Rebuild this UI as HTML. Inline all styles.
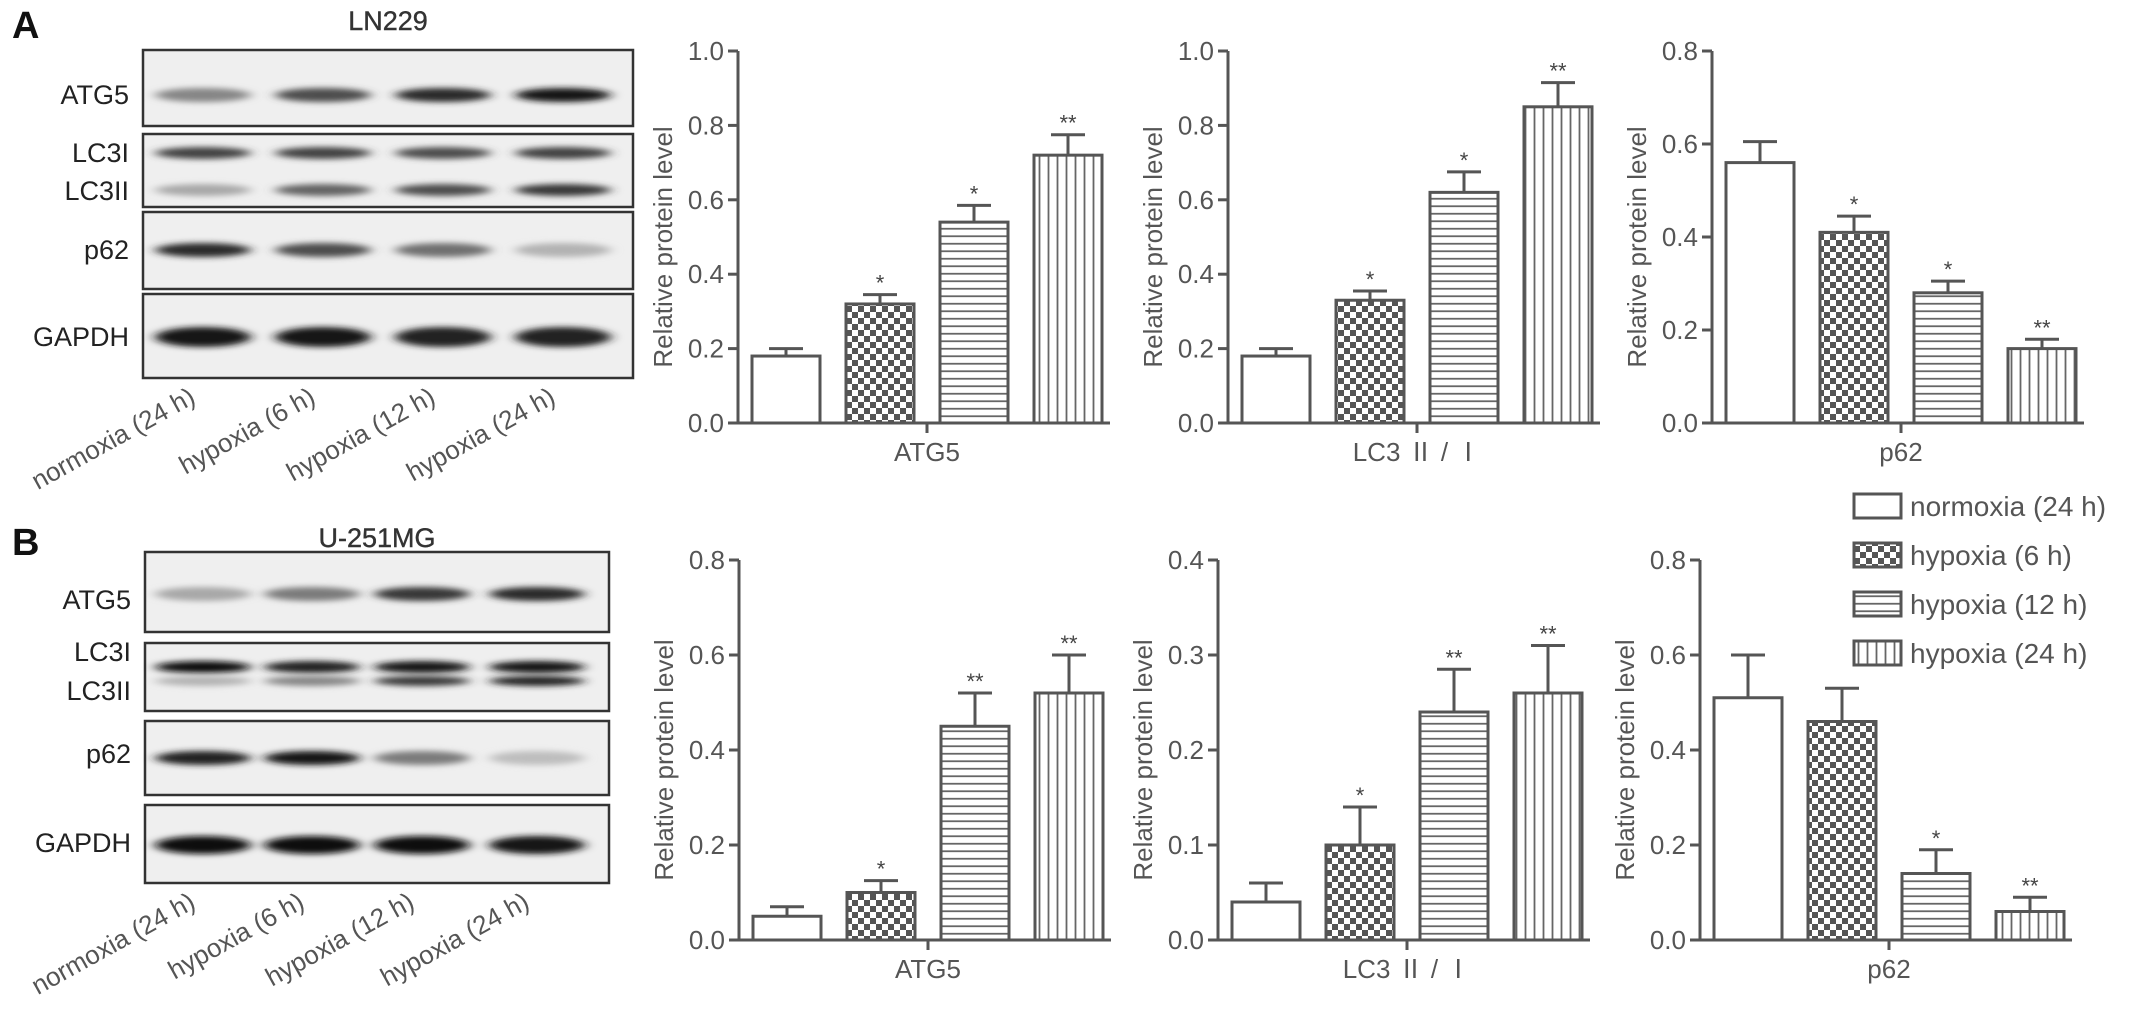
<!DOCTYPE html>
<html><head><meta charset="utf-8">
<style>
html,body{margin:0;padding:0;background:#fff;}
svg{display:block;font-family:"Liberation Sans","Noto Sans CJK SC",sans-serif;}
</style></head>
<body>
<svg id="fig" width="2150" height="1018" viewBox="0 0 2150 1018" xmlns="http://www.w3.org/2000/svg">
<defs>
  <filter id="blur" x="-20%" y="-200%" width="140%" height="500%"><feGaussianBlur stdDeviation="6 3"/></filter>
  <pattern id="pat-check" width="12" height="12" patternUnits="userSpaceOnUse">
    <rect width="12" height="12" fill="#fff"/>
    <rect x="0" y="0" width="6" height="6" fill="#555"/>
    <rect x="6" y="6" width="6" height="6" fill="#555"/>
  </pattern>
  <pattern id="pat-h" width="10" height="7.5" patternUnits="userSpaceOnUse">
    <rect width="10" height="7.5" fill="#fff"/>
    <line x1="0" y1="3.75" x2="10" y2="3.75" stroke="#666" stroke-width="1.8"/>
  </pattern>
  <pattern id="pat-v" width="9" height="10" patternUnits="userSpaceOnUse">
    <rect width="9" height="10" fill="#fff"/>
    <line x1="4.5" y1="0" x2="4.5" y2="10" stroke="#666" stroke-width="1.8"/>
  </pattern>
</defs>
<g id="root"></g>
</svg>
<script>
// ---- data ----
const groups = ["normoxia (24 h)", "hypoxia (6 h)", "hypoxia (12 h)", "hypoxia (24 h)"];
const a_atg5_vals = [0.18, 0.32, 0.54, 0.72];
const a_atg5_err  = [0.02, 0.025, 0.045, 0.055];
const a_atg5_sig  = ["", "*", "*", "**"];
const a_lc3_vals  = [0.18, 0.33, 0.62, 0.85];
const a_lc3_err   = [0.02, 0.025, 0.055, 0.065];
const a_lc3_sig   = ["", "*", "*", "**"];
const a_p62_vals  = [0.56, 0.41, 0.28, 0.16];
const a_p62_err   = [0.045, 0.035, 0.025, 0.02];
const a_p62_sig   = ["", "*", "*", "**"];
const b_atg5_vals = [0.05, 0.10, 0.45, 0.52];
const b_atg5_err  = [0.02, 0.025, 0.07, 0.08];
const b_atg5_sig  = ["", "*", "**", "**"];
const b_lc3_vals  = [0.04, 0.10, 0.24, 0.26];
const b_lc3_err   = [0.02, 0.04, 0.045, 0.05];
const b_lc3_sig   = ["", "*", "**", "**"];
const b_p62_vals  = [0.51, 0.46, 0.14, 0.06];
const b_p62_err   = [0.09, 0.07, 0.05, 0.03];
const b_p62_sig   = ["", "", "*", "**"];
const ticks_1_0 = ["0.0","0.2","0.4","0.6","0.8","1.0"];
const ticks_0_8 = ["0.0","0.2","0.4","0.6","0.8"];
const ticks_0_4 = ["0.0","0.1","0.2","0.3","0.4"];
// blot band intensities (0..1 darkness) per lane
const a_blot_atg5 = [0.45, 0.7, 0.85, 0.95];
const a_blot_lc3i = [0.75, 0.75, 0.7, 0.75];
const a_blot_lc3ii= [0.3, 0.6, 0.7, 0.8];
const a_blot_p62  = [0.85, 0.7, 0.55, 0.25];
const a_blot_gapdh= [0.95, 0.95, 0.9, 0.9];
const b_blot_atg5 = [0.3, 0.5, 0.8, 0.85];
const b_blot_lc3i = [1, 0.9, 0.95, 0.95];
const b_blot_lc3ii= [0.25, 0.45, 0.8, 0.9];
const b_blot_p62  = [0.9, 0.95, 0.5, 0.2];
const b_blot_gapdh= [1, 1, 1, 0.95];

const NS = "http://www.w3.org/2000/svg";
const root = document.getElementById("root");
function mk(tag, attrs, parent) {
  const e = document.createElementNS(NS, tag);
  for (const k in attrs) e.setAttribute(k, attrs[k]);
  (parent || root).appendChild(e);
  return e;
}
function txt(s, attrs, parent) { const t = mk("text", attrs, parent); t.textContent = s; return t; }

const fills = ["#fff", "url(#pat-check)", "url(#pat-h)", "url(#pat-v)"];
const AX = "#555";

function chart(name, x0, yZero, yTop, ymax, ticks, vals, errs, sigs, xlabel) {
  const g = mk("g", {});
  
  
  const ys = v => yZero - (v / ymax) * (yZero - yTop);
  const xs = i => x0 + 14 + i * 94;
  const bw = 68;
  const ya = mk("line", {x1:x0, y1:yTop, x2:x0, y2:yZero, stroke:AX, "stroke-width":3}, g);
  
  
  ticks.forEach((t, i) => {
    const v = ymax * i / (ticks.length - 1);
    const y = ys(v);
    mk("line", {x1:x0-10, y1:y, x2:x0, y2:y, stroke:AX, "stroke-width":3}, g);
    const tl = txt(t, {x:x0-14, y:y+9, "text-anchor":"end", "font-size":26, fill:"#555"}, g);
    
    
  });
  const yt = txt("Relative protein level", {x:0, y:0, "text-anchor":"middle", "font-size":26, fill:"#555",
    transform:`translate(${x0-66},${(yTop+yZero)/2+10}) rotate(-90)`}, g);
  
  
  const xa = mk("line", {x1:x0-10, y1:yZero, x2:x0+372, y2:yZero, stroke:AX, "stroke-width":3}, g);
  
  
  mk("line", {x1:x0+189, y1:yZero, x2:x0+189, y2:yZero+10, stroke:AX, "stroke-width":3}, g);
  const xl = txt(xlabel, {x:x0+189, y:yZero+38, "text-anchor":"middle", "font-size":26, fill:"#555"}, g);
  
  
  vals.forEach((v, i) => {
    const x = xs(i), y = ys(v);
    const b = mk("rect", {x:x, y:y, width:bw, height:yZero-y, fill:fills[i], stroke:AX, "stroke-width":3}, g);
    
    
    const ye = ys(v + errs[i]);
    const cx = x + bw/2;
    const eb = mk("path", {d:`M${cx},${y} V${ye} M${cx-17},${ye} H${cx+17}`, stroke:AX, "stroke-width":3, fill:"none"}, g);
    
    
    if (sigs[i]) {
      const s = txt(sigs[i], {x:cx, y:ye-4, "text-anchor":"middle", "font-size":22, fill:"#444"}, g);
      
      
    }
  });
}

function blot(name, x1, x2, lanes, rows, title, titleY, letter, letterY, labY0) {
  const g = mk("g", {});
  
  
  const lt = txt(letter, {x:12, y:letterY, "font-size":38, "font-weight":"bold", fill:"#111"}, g);
  
  
  const tt = txt(title, {x:(x1+x2)/2, y:titleY, "text-anchor":"middle", "font-size":27, fill:"#333", stroke:"#333", "stroke-width":0.4}, g);
  
  
  rows.forEach(r => {
    const box = mk("rect", {x:x1, y:r.y1, width:x2-x1, height:r.y2-r.y1, fill:"#efefef", stroke:"#333", "stroke-width":2.5}, g);
    
    
    r.bands.forEach(bd => {
      bd.vals.forEach((d, i) => {
        const c = Math.round(235 - 225 * d);
        mk("ellipse", {cx:lanes[i], cy:bd.y, rx:48, ry:bd.h, fill:`rgb(${c},${c},${c})`, filter:"url(#blur)"}, g);
      });
      const l = txt(bd.label, {x:x1-14, y:bd.ly, "text-anchor":"end", "font-size":27, fill:"#222"}, g);
      
      
    });
  });
  groups.forEach((s, i) => {
    const t = txt(s, {x:0, y:0, "text-anchor":"end", "font-size":26, fill:"#555",
      transform:`translate(${lanes[i]-6},${labY0}) rotate(-29)`}, g);
    
    
  });
}

blot("blot-ln229", 143, 633, [203, 323, 443, 563], [
  {y1:50, y2:126, bands:[{y:95, h:7, vals:a_blot_atg5, label:"ATG5", ly:104}]},
  {y1:134, y2:207, bands:[{y:153, h:6, vals:a_blot_lc3i, label:"LC3I", ly:162},{y:190, h:6, vals:a_blot_lc3ii, label:"LC3II", ly:200}]},
  {y1:212, y2:289, bands:[{y:250, h:7, vals:a_blot_p62, label:"p62", ly:259}]},
  {y1:294, y2:378, bands:[{y:337, h:10, vals:a_blot_gapdh, label:"GAPDH", ly:346}]}
], "LN229", 30, "A", 38, 402);

blot("blot-u251mg", 145, 609, [203, 312, 422, 537], [
  {y1:552, y2:632, bands:[{y:594, h:7, vals:b_blot_atg5, label:"ATG5", ly:609}]},
  {y1:643, y2:711, bands:[{y:667, h:6, vals:b_blot_lc3i, label:"LC3I", ly:661},{y:681, h:5, vals:b_blot_lc3ii, label:"LC3II", ly:700}]},
  {y1:721, y2:795, bands:[{y:758, h:7, vals:b_blot_p62, label:"p62", ly:763}]},
  {y1:805, y2:883, bands:[{y:845, h:9, vals:b_blot_gapdh, label:"GAPDH", ly:852}]}
], "U-251MG", 547, "B", 555, 907);

chart("chart-a-atg5", 738, 423, 51, 1.0, ticks_1_0, a_atg5_vals, a_atg5_err, a_atg5_sig, "ATG5");
chart("chart-a-lc3", 1228, 423, 51, 1.0, ticks_1_0, a_lc3_vals, a_lc3_err, a_lc3_sig, "LC3 Ⅱ / Ⅰ");
chart("chart-a-p62", 1712, 423, 51, 0.8, ticks_0_8, a_p62_vals, a_p62_err, a_p62_sig, "p62");
chart("chart-b-atg5", 739, 940, 560, 0.8, ticks_0_8, b_atg5_vals, b_atg5_err, b_atg5_sig, "ATG5");
chart("chart-b-lc3", 1218, 940, 560, 0.4, ticks_0_4, b_lc3_vals, b_lc3_err, b_lc3_sig, "LC3 Ⅱ / Ⅰ");
chart("chart-b-p62", 1700, 940, 560, 0.8, ticks_0_8, b_p62_vals, b_p62_err, b_p62_sig, "p62");

const lg = mk("g", {});


groups.forEach((s, i) => {
  const cy = 506 + i * 49;
  const sw = mk("rect", {x:1854, y:cy-12, width:47, height:24, fill:fills[i], stroke:AX, "stroke-width":3}, lg);
  
  
  const t = txt(s, {x:1910, y:cy+10, "font-size":28, fill:"#555"}, lg);
  
  
});
</script>
</body></html>
